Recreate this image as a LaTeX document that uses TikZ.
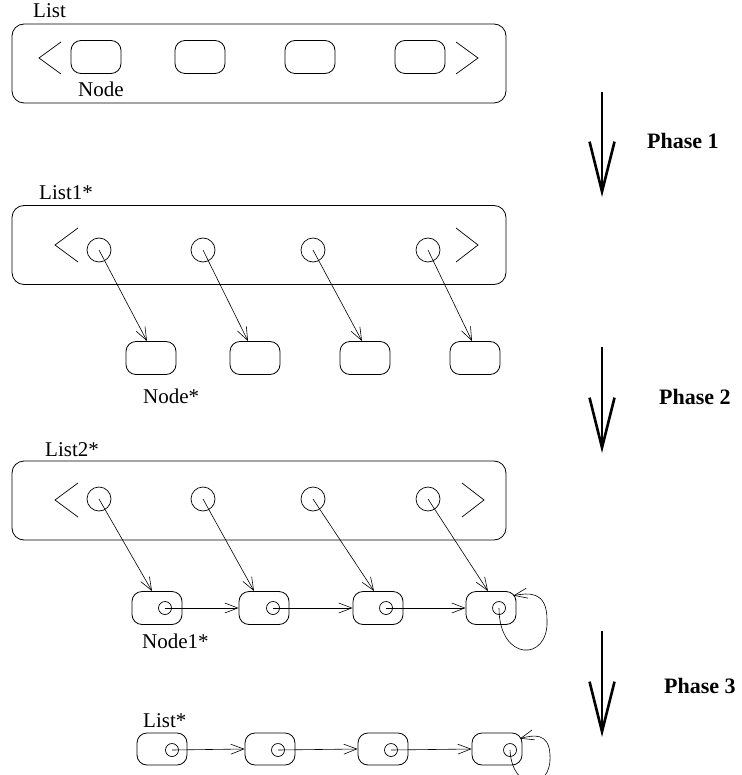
\documentclass[tikz,border=0pt]{standalone}
\usepackage{fontspec}
\setmainfont{Liberation Serif}
\usetikzlibrary{arrows.meta, positioning}

\begin{document}
\begin{tikzpicture}[
    x=1pt, y=-1pt,
    lst/.style={rectangle, rounded corners=12pt, draw, line width=0.8pt,
                minimum width=494pt, minimum height=79pt},
    nd/.style={rectangle, rounded corners=10pt, draw, line width=0.8pt,
               minimum width=50pt, minimum height=33pt},
    ptr/.style={circle, draw, line width=0.7pt, minimum size=24pt, inner sep=0pt},
    sptr/.style={circle, draw, line width=0.7pt, minimum size=13pt, inner sep=0pt},
    lbl/.style={anchor=base west, inner sep=0pt, font=\fontsize{21}{25}\selectfont},
    phlbl/.style={anchor=base west, inner sep=0pt, font=\fontsize{22}{26}\selectfont\bfseries},
    brk/.style={line width=0.7pt},
    arr/.style={-{Straight Barb[length=13pt, width=10pt]}, line width=0.6pt},
    parr/.style={-{Straight Barb[length=50pt, width=25pt]}, line width=2.6pt},
]
\useasboundingbox (0,0) rectangle (741,775);

% the list
\node[lst] (l0) at (259,63.5) {};
\node[lbl] (l0lbl) at (33,18) {List};
\node[nd] (a1) at (96,57) {};
\node[nd] (a2) at (200,57) {};
\node[nd] (a3) at (310,57) {};
\node[nd] (a4) at (420,57) {};
\node[lbl] (a1lbl) at (78,97) {Node};
\draw[brk] (61,42) -- (39,58) -- (61,74);
\draw[brk] (456,42) -- (478,58) -- (456,74);

% phase 1
\coordinate (ph1s) at (602,92);
\coordinate (ph1e) at (602,197);
\draw[parr] (ph1s) -- (ph1e);
\node[phlbl] (ph1) at (647,149) {Phase 1};

% list1 with pointers to nodes
\node[lst] (l1) at (259,245) {};
\node[lbl] (l1lbl) at (39,200) {List1*};
\node[ptr] (p1) at (99,250) {};
\node[ptr] (p2) at (203,250) {};
\node[ptr] (p3) at (313,250) {};
\node[ptr] (p4) at (428,250) {};
\draw[brk] (78,228) -- (55,245) -- (78,262);
\draw[brk] (456,228) -- (478,245) -- (456,262);

\node[nd] (b1) at (151,358) {};
\node[nd] (b2) at (255,358) {};
\node[nd] (b3) at (365,358) {};
\node[nd] (b4) at (475,358) {};
\node[lbl] (b1lbl) at (143,403) {Node*};

\draw[arr] (p1.center) -- ([xshift=-4pt]b1.north);
\draw[arr] (p2.center) -- ([xshift=-7pt]b2.north);
\draw[arr] (p3.center) -- ([xshift=-3pt]b3.north);
\draw[arr] (p4.center) -- ([xshift=-3pt]b4.north);

% phase 2
\coordinate (ph2s) at (602,347);
\coordinate (ph2e) at (602,453);
\draw[parr] (ph2s) -- (ph2e);
\node[phlbl] (ph2) at (659,404) {Phase 2};

% list2 with linked nodes
\node[lst] (l2) at (259,500.5) {};
\node[lbl] (l2lbl) at (45,456) {List2*};
\node[ptr] (q1) at (99,499) {};
\node[ptr] (q2) at (203,499) {};
\node[ptr] (q3) at (313,499) {};
\node[ptr] (q4) at (428,499) {};
\draw[brk] (78,483) -- (55,500) -- (78,517);
\draw[brk] (462,483) -- (484,500) -- (462,517);

\node[nd] (c1) at (157,608) {};
\node[nd] (c2) at (264,608) {};
\node[nd] (c3) at (378,608) {};
\node[nd] (c4) at (491,608) {};
\node[sptr] (s1) at (165,608) {};
\node[sptr] (s2) at (273,608) {};
\node[sptr] (s3) at (386,608) {};
\node[sptr] (s4) at (499,608) {};
\node[lbl] (c1lbl) at (142,648) {Node1*};

\draw[arr] (q1.center) -- ([xshift=-5pt]c1.north);
\draw[arr] (q2.center) -- ([xshift=-10pt]c2.north);
\draw[arr] (q3.center) -- ([xshift=-4pt]c3.north);
\draw[arr] (q4.center) -- ([xshift=-3pt]c4.north);

\draw[arr] (s1.center) -- (c2.west);
\draw[arr] (s2.center) -- (c3.west);
\draw[arr] (s3.center) -- (c4.west);
\draw[arr] (s4.center) .. controls (499,662) and (549,662) .. (547,620)
    .. controls (547,590) and (528,593) .. ([xshift=-3pt,yshift=-4.5pt]c4.north east);

% phase 3
\coordinate (ph3s) at (602,631);
\coordinate (ph3e) at (602,737);
\draw[parr] (ph3s) -- (ph3e);
\node[phlbl] (ph3) at (664,693) {Phase 3};

% final list
\node[lbl] (dlbl) at (143,727) {List*};
\node[nd, minimum height=32pt] (d1) at (162,749) {};
\node[nd, minimum height=32pt] (d2) at (270,749) {};
\node[nd, minimum height=32pt] (d3) at (383,749) {};
\node[nd, minimum height=32pt] (d4) at (497,749) {};
\node[sptr] (t1) at (172,750) {};
\node[sptr] (t2) at (278,750) {};
\node[sptr] (t3) at (391,750) {};
\node[sptr] (t4) at (510,750) {};

\draw[arr] (t1.center) -- (d2.west);
\draw[arr] (t2.center) -- (d3.west);
\draw[arr] (t3.center) -- (d4.west);
\draw[arr] (t4.center) .. controls (512,792) and (552,792) .. (550,755)
    .. controls (549,732) and (533,735) .. ([xshift=-2.5pt,yshift=-6pt]d4.north east);

\end{tikzpicture}
\end{document}
